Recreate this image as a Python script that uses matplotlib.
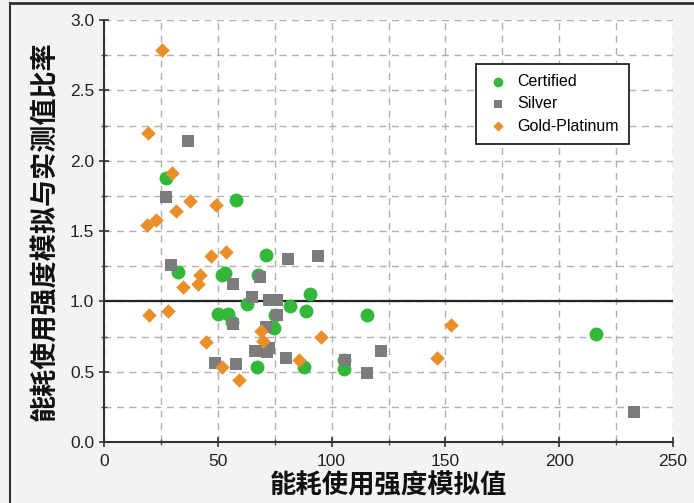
import matplotlib
matplotlib.use("Agg")
from matplotlib import pyplot as plt
from matplotlib.lines import Line2D
from matplotlib.ticker import MultipleLocator

# Certified (green)
cert_x = [27.1, 32.7, 58.0, 51.8, 53.3, 71.2, 67.6, 62.8, 81.9, 90.7, 88.9, 115.6,
          50.3, 54.3, 56.2, 75.3, 74.5, 67.2, 88.0, 105.3, 105.3, 216.0]
cert_y = [1.875, 1.21, 1.72, 1.19, 1.20, 1.33, 1.19, 0.98, 0.97, 1.05, 0.93, 0.90,
          0.91, 0.91, 0.855, 0.90, 0.81, 0.535, 0.53, 0.58, 0.52, 0.77]

# Silver (gray)
silver_x = [37.0, 27.1, 29.3, 56.5, 80.8, 93.9, 68.7, 65.0, 72.3, 76.0, 76.0, 71.3,
            56.6, 66.5, 71.6, 72.3, 80.1, 48.9, 58.1, 106.0, 115.6, 121.5, 233.0]
silver_y = [2.14, 1.745, 1.26, 1.12, 1.30, 1.32, 1.17, 1.03, 1.01, 1.01, 0.90, 0.82,
            0.84, 0.65, 0.64, 0.67, 0.60, 0.56, 0.555, 0.58, 0.49, 0.65, 0.215]

# Gold-Platinum (orange)
gold_x = [25.7, 19.5, 30.0, 37.9, 31.5, 49.4, 19.0, 22.7, 47.0, 53.5, 42.3, 41.5,
          34.8, 19.9, 28.3, 44.9, 69.0, 69.7, 51.8, 59.4, 85.8, 95.4, 152.3, 146.1]
gold_y = [2.79, 2.195, 1.91, 1.715, 1.64, 1.685, 1.54, 1.58, 1.32, 1.35, 1.19, 1.12,
          1.10, 0.90, 0.93, 0.71, 0.79, 0.72, 0.535, 0.44, 0.58, 0.75, 0.83, 0.60]

green = "#33b83a"
gray = "#7c7c7c"
orange = "#e98f2a"

cjk = ["Noto Sans CJK SC", "DejaVu Sans"]
num_font = ["Liberation Sans", "DejaVu Sans"]

fig = plt.figure(figsize=(6.94, 5.03), dpi=100, facecolor="#f3f3f3")
ax = fig.add_axes([104 / 694, 61 / 503, 569 / 694, 422 / 503])
ax.set_facecolor("white")

# frame of the picture
fig.add_artist(Line2D([10 / 694, 1.0], [1 - 3 / 503, 1 - 3 / 503], color="#333333", lw=2.0))
fig.add_artist(Line2D([10 / 694, 10 / 694], [0, 1 - 3 / 503], color="#333333", lw=1.5))

ax.set_xlim(0, 250)
ax.set_ylim(0, 3.0)
ax.xaxis.set_major_locator(MultipleLocator(50))
ax.xaxis.set_minor_locator(MultipleLocator(25))
ax.yaxis.set_major_locator(MultipleLocator(0.5))
ax.yaxis.set_minor_locator(MultipleLocator(0.25))
ax.grid(True, which="both", linestyle=(0, (5, 4)), color="#b0b0b0", linewidth=1.0)
ax.set_axisbelow(True)

ax.axhline(1.0, color="#222222", linewidth=1.6, zorder=2)

ax.scatter(cert_x, cert_y, s=100, marker="o", color=green, label="Certified", zorder=3, linewidths=0)
ax.scatter(silver_x, silver_y, s=64, marker="s", color=gray, label="Silver", zorder=3, linewidths=0)
ax.scatter(gold_x, gold_y, s=55, marker="D", color=orange, label="Gold-Platinum", zorder=3, linewidths=0)

for side in ["top", "right"]:
    ax.spines[side].set_visible(False)
for side in ["left", "bottom"]:
    ax.spines[side].set_color("#333333")
    ax.spines[side].set_linewidth(1.5)

ax.tick_params(which="major", direction="inout", length=7, width=1.2, color="#333333",
               labelsize=12.5, labelcolor="#222222")
ax.tick_params(axis="x", which="major", pad=5)
ax.tick_params(which="minor", direction="inout", length=5, width=1.0, color="#555555")
ax.set_xticks([0, 50, 100, 150, 200, 250])
ax.set_yticks([0.0, 0.5, 1.0, 1.5, 2.0, 2.5, 3.0])
ax.set_yticklabels(["0.0", "0.5", "1.0", "1.5", "2.0", "2.5", "3.0"])
for lab in ax.get_xticklabels() + ax.get_yticklabels():
    lab.set_family(num_font)

ax.set_xlabel("能耗使用强度模拟值", family=cjk, fontsize=19, fontweight="bold",
              color="#111111", labelpad=3)
ax.set_ylabel("能耗使用强度模拟与实测值比率", family=cjk, fontsize=19.5, fontweight="bold",
              color="#111111", labelpad=8)

leg = ax.legend(loc="upper left", bbox_to_anchor=(0.64, 0.915), frameon=True, fancybox=False,
                framealpha=1, edgecolor="#222222", markerscale=0.7, handletextpad=0.5,
                borderpad=0.65, labelspacing=0.45, handlelength=1.4,
                prop={"family": num_font, "size": 11.5})
leg.get_frame().set_linewidth(1.3)

plt.savefig("out.png", dpi=100, facecolor=fig.get_facecolor())
